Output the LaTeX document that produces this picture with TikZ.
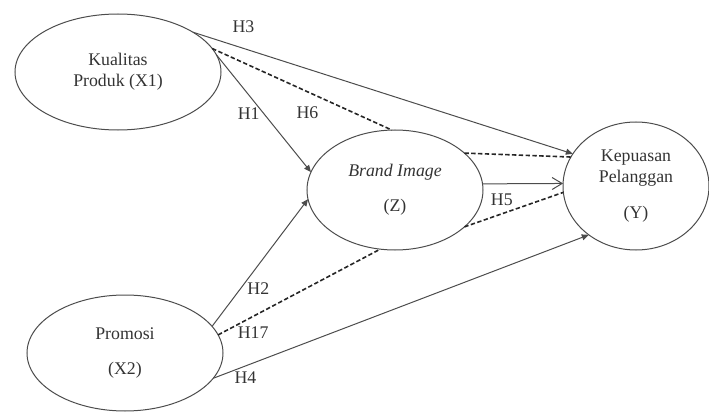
\documentclass[tikz,border=0pt]{standalone}
\usepackage{fontspec}
\setmainfont{Liberation Serif}
\usepackage{xcolor}
\usepackage{tikz}
\usetikzlibrary{positioning, arrows.meta, shapes.geometric}

\begin{document}
\begin{tikzpicture}[
    x=0.5pt, y=0.5pt,
    every node/.style={font=\fontsize{8.9}{10.5}\selectfont, text=black!80},
    var/.style={draw=black!70, line width=0.5pt, ellipse, inner sep=0pt, outer sep=0pt, align=center},
    arrow/.style={-{Triangle[length=3.5pt,width=3pt]}, draw=black!70, line width=0.5pt},
    openarrow/.style={-{Straight Barb[length=5pt,width=6pt]}, draw=black!70, line width=0.5pt},
    link/.style={draw=black!85, line width=0.8pt, dash pattern=on 2.2pt off 1.2pt},
    hyp/.style={inner sep=0pt}
]
\useasboundingbox (0,0) rectangle (709,-412);

\node[var, minimum width=103pt, minimum height=58pt] (kualitas) at (118,-72) {Kualitas\\Produk (X1)};
\node[var, minimum width=88pt, minimum height=60pt] (brand) at (395,-190) {\textit{Brand Image}\\[7pt](Z)};
\node[var, minimum width=73pt, minimum height=64pt] (kepuasan) at (636,-186) {Kepuasan\\Pelanggan\\[7.5pt](Y)};
\node[var, minimum width=98pt, minimum height=58pt] (promosi) at (125,-353) {Promosi\\[7pt](X2)};

\draw[arrow] (kualitas.28) -- node[hyp, pos=0.133, yshift=10.7pt]{H3} (kepuasan.153);
\draw[link] (kualitas.14) -- node[hyp, pos=0.53, yshift=-10.5pt]{H6} (brand.93);
\draw[arrow] (kualitas.10) -- node[hyp, pos=0.5, xshift=-7.5pt]{H1} (brand.168);
\draw[link] (brand.28) -- (kepuasan.156);
\draw[openarrow] (brand.4) -- node[hyp, pos=0.24, yshift=-8pt]{H5} (kepuasan.178);
\draw[link] (brand.332) -- (kepuasan.185);
\draw[arrow] (promosi.17) -- node[hyp, pos=0.3, xshift=8.75pt]{H2} (brand.186);
\draw[link] (promosi.11) -- node[hyp, pos=0.216, yshift=-8.2pt]{H17} (brand.256);
\draw[arrow] (promosi.-16) -- node[hyp, pos=0.086, yshift=-5.6pt]{H4} (kepuasan.226);

\end{tikzpicture}
\end{document}
